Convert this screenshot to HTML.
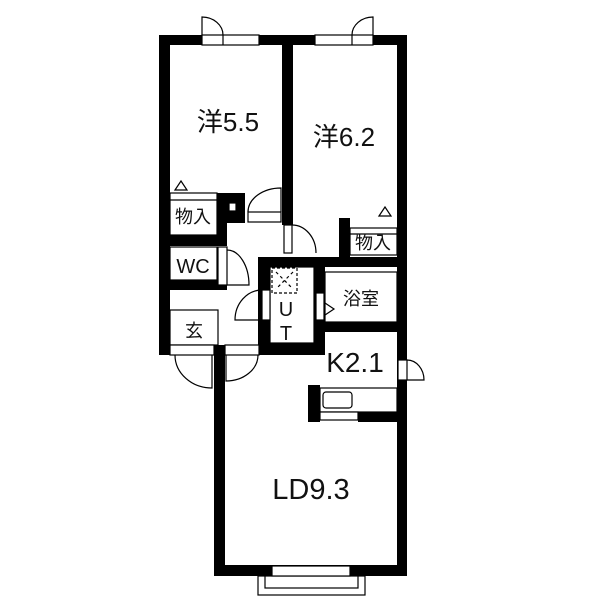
<!DOCTYPE html>
<html><head><style>body{margin:0;background:#fff}svg{display:block}text{font-family:"Liberation Sans","Noto Sans CJK JP",sans-serif;fill:#111}</style></head>
<body>
<svg width="600" height="600" viewBox="0 0 600 600" xmlns="http://www.w3.org/2000/svg">
<rect width="600" height="600" fill="#fff"/>
<g fill="#000">
<rect x="159" y="35" width="248" height="10"/>
<rect x="159" y="35" width="11" height="320"/>
<rect x="397" y="35" width="10" height="541"/>
<rect x="282" y="35" width="11" height="190"/>
<rect x="159" y="345" width="100" height="10"/>
<rect x="214" y="345" width="11" height="231"/>
<rect x="214" y="565" width="193" height="11"/>
<rect x="217" y="193" width="28" height="30"/>
<rect x="217" y="222" width="10" height="24"/>
<rect x="159" y="235" width="68" height="11"/>
<rect x="159" y="280" width="68" height="10"/>
<rect x="258" y="257" width="139" height="10"/>
<rect x="258" y="257" width="12" height="98"/>
<rect x="258" y="343" width="60" height="12"/>
<rect x="314" y="262" width="11" height="93"/>
<rect x="314" y="322" width="84" height="10"/>
<rect x="339" y="218" width="11" height="40"/>
<rect x="308" y="385" width="12" height="37"/>
<rect x="358" y="412" width="40" height="10"/>
</g>
<g fill="#fff" stroke="#000" stroke-width="1.2">
<rect x="202" y="35" width="57" height="10"/><line x1="223" y1="35" x2="223" y2="45"/>
<rect x="315" y="35" width="58" height="10"/><line x1="352" y1="35" x2="352" y2="45"/>
<rect x="170" y="193" width="47" height="42"/><line x1="170" y1="200" x2="217" y2="200"/>
<rect x="229" y="203" width="7" height="8"/>
<rect x="350" y="228" width="47" height="27"/><line x1="350" y1="234" x2="397" y2="234"/>
<rect x="170" y="247" width="47" height="33"/>
<rect x="170" y="310" width="48" height="35"/>
<rect x="270" y="267" width="44" height="76"/>
<rect x="325" y="272" width="72" height="50"/>
<rect x="316" y="293" width="8" height="27"/>
<rect x="248" y="212" width="33" height="10"/>
<rect x="284" y="225" width="8" height="28"/>
<rect x="218" y="247" width="9" height="38"/>
<rect x="262" y="290" width="8" height="30"/>
<rect x="398" y="360" width="9" height="20"/>
<rect x="320" y="388" width="77" height="24"/>
<rect x="323" y="392" width="29" height="16" rx="3"/>
<rect x="320" y="412" width="38" height="8"/>
<rect x="170" y="345" width="44" height="10"/>
<rect x="225" y="345" width="34" height="10"/>
<rect x="258" y="576" width="107" height="19"/>
<rect x="265" y="576" width="93" height="12"/>
<rect x="272" y="566" width="78" height="10"/>
</g>
<g fill="none" stroke="#000" stroke-width="1.2">
<path d="M202 35 V17 A21 18 0 0 1 223 35"/>
<path d="M373 35 V17 A21 18 0 0 0 352 35"/>
<path d="M281 212 V188 A33 24 0 0 0 248 212"/>
<path d="M292 225 A24 28 0 0 1 316 253"/>
<path d="M227 250 A22 35 0 0 1 249 285 H227"/>
<path d="M262 290 A27 30 0 0 0 235 320 H262"/>
<path d="M212 355 V388 A37 33 0 0 1 175 355"/>
<path d="M226 355 V381 A32 26 0 0 0 258 355"/>
<path d="M407 380 H424 A17 20 0 0 0 407 360"/>
<path d="M325 303 L334 309 L325 315"/>
<path d="M175 190 L181 181 L187 190 Z"/>
<path d="M379 216 L385 207 L391 216 Z"/>
<rect x="272" y="268" width="25" height="25" stroke-dasharray="3,2"/>
<path d="M276 272 L293 289 M293 272 L276 289" stroke-dasharray="3,3"/>
</g>
<text x="228" y="131" font-size="26" text-anchor="middle">洋5.5</text>
<text x="344" y="146" font-size="26" text-anchor="middle">洋6.2</text>
<text x="193" y="223" font-size="18" text-anchor="middle">物入</text>
<text x="373" y="249" font-size="18" text-anchor="middle">物入</text>
<text x="193" y="273" font-size="20" text-anchor="middle">WC</text>
<text x="194" y="337" font-size="18" text-anchor="middle">玄</text>
<text x="361" y="305" font-size="18" text-anchor="middle">浴室</text>
<text x="286" y="316" font-size="20" text-anchor="middle">U</text>
<text x="286" y="340" font-size="20" text-anchor="middle">T</text>
<text x="355" y="372" font-size="28" text-anchor="middle">K2.1</text>
<text x="311" y="499" font-size="29" text-anchor="middle">LD9.3</text>
</svg>
</body></html>
